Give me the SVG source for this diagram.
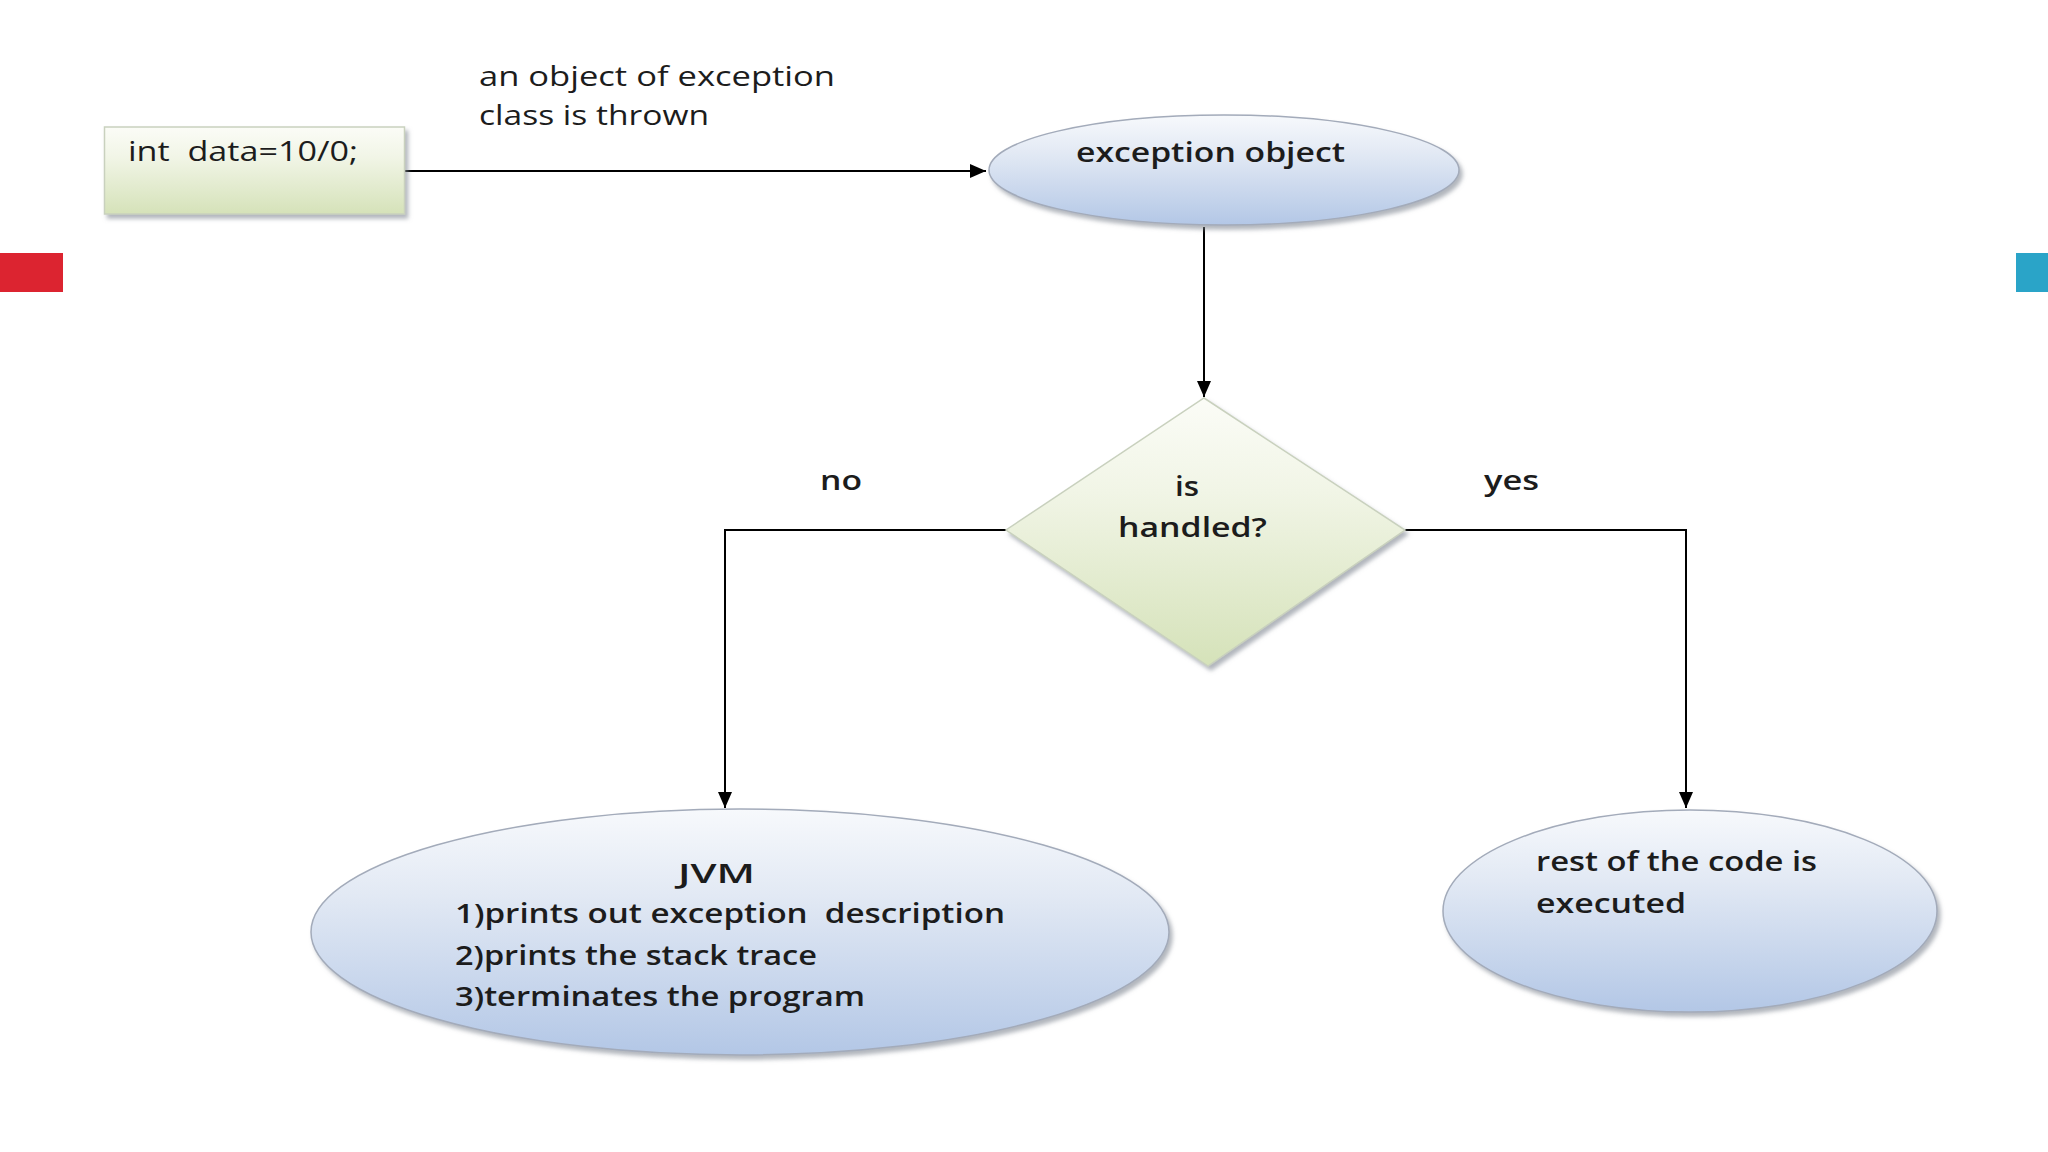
<svg xmlns="http://www.w3.org/2000/svg" width="2048" height="1152" viewBox="0 0 2048 1152">
  <defs>
    <linearGradient id="gGreen" x1="0" y1="0" x2="0" y2="1">
      <stop offset="0" stop-color="#fbfcf7"/>
      <stop offset="0.35" stop-color="#f1f5e6"/>
      <stop offset="1" stop-color="#d5e2b9"/>
    </linearGradient>
    <linearGradient id="gBlue" x1="0" y1="0" x2="0" y2="1">
      <stop offset="0" stop-color="#f7f9fc"/>
      <stop offset="0.35" stop-color="#e2e9f4"/>
      <stop offset="1" stop-color="#b3c7e6"/>
    </linearGradient>
    <filter id="sh" x="-10%" y="-10%" width="125%" height="130%">
      <feDropShadow dx="3" dy="4" stdDeviation="2" flood-color="#7f8590" flood-opacity="0.6"/>
    </filter>
    <marker id="arr" viewBox="0 0 16 14" refX="16" refY="7" markerWidth="16" markerHeight="14" markerUnits="userSpaceOnUse" orient="auto">
      <path d="M0,0 L16,7 L0,14 Z" fill="#000"/>
    </marker>
  </defs>
  <style>
    .t { font-family: "Open Sans", "Liberation Sans", sans-serif; font-size: 27px; fill: #1c1c1c; }
    .r { font-weight: 400; }
    .b { font-weight: 600; }
    .conn { fill: none; stroke: #000; stroke-width: 2; }
    .ell { fill: url(#gBlue); stroke: #a3abba; stroke-width: 1.5; filter: url(#sh); }
    .grn { fill: url(#gGreen); stroke: #c9d1be; stroke-width: 1.5; filter: url(#sh); }
  </style>
  <rect width="2048" height="1152" fill="#ffffff"/>
  <rect x="0" y="253" width="63" height="39" fill="#dc2430"/>
  <rect x="2016" y="253" width="32" height="39" fill="#2aa4c8"/>

  <g id="connectors">
    <path class="conn" d="M405,171 L986,171" marker-end="url(#arr)"/>
    <path class="conn" d="M1204,227 L1204,397" marker-end="url(#arr)"/>
    <path class="conn" d="M1006,530 L725,530 L725,808" marker-end="url(#arr)"/>
    <path class="conn" d="M1405,530 L1686,530 L1686,808" marker-end="url(#arr)"/>
    <text class="t r" x="479" y="86" textLength="356" lengthAdjust="spacingAndGlyphs">an object of exception</text>
    <text class="t r" x="479" y="125" textLength="230" lengthAdjust="spacingAndGlyphs">class is thrown</text>
    <text class="t b" x="820" y="490" textLength="42" lengthAdjust="spacingAndGlyphs">no</text>
    <text class="t b" x="1484" y="490" textLength="55" lengthAdjust="spacingAndGlyphs">yes</text>
  </g>

  <g id="node-code">
    <rect class="grn" x="104.5" y="127" width="300" height="87"/>
    <text class="t r" x="128" y="161" textLength="230" lengthAdjust="spacingAndGlyphs" xml:space="preserve">int  data=10/0;</text>
  </g>

  <g id="node-exception">
    <ellipse class="ell" cx="1224" cy="170" rx="235" ry="55"/>
    <text class="t b" x="1076" y="162" textLength="269" lengthAdjust="spacingAndGlyphs">exception object</text>
  </g>

  <g id="node-decision">
    <polygon class="grn" points="1204,398 1405,530 1208,666 1006,530"/>
    <text class="t b" x="1175" y="496" textLength="24" lengthAdjust="spacingAndGlyphs">is</text>
    <text class="t b" x="1118" y="537" textLength="149" lengthAdjust="spacingAndGlyphs">handled?</text>
  </g>

  <g id="node-jvm">
    <ellipse class="ell" cx="740" cy="932" rx="429" ry="123"/>
    <text class="t b" x="678" y="883" textLength="77" lengthAdjust="spacingAndGlyphs">JVM</text>
    <text class="t b" x="455" y="923" textLength="550" lengthAdjust="spacingAndGlyphs" xml:space="preserve">1)prints out exception  description</text>
    <text class="t b" x="455" y="965" textLength="362" lengthAdjust="spacingAndGlyphs">2)prints the stack trace</text>
    <text class="t b" x="455" y="1006" textLength="410" lengthAdjust="spacingAndGlyphs">3)terminates the program</text>
  </g>

  <g id="node-rest">
    <ellipse class="ell" cx="1690" cy="911" rx="247" ry="101"/>
    <text class="t b" x="1536" y="871" textLength="281" lengthAdjust="spacingAndGlyphs">rest of the code is</text>
    <text class="t b" x="1536" y="913" textLength="150" lengthAdjust="spacingAndGlyphs">executed</text>
  </g>
</svg>
